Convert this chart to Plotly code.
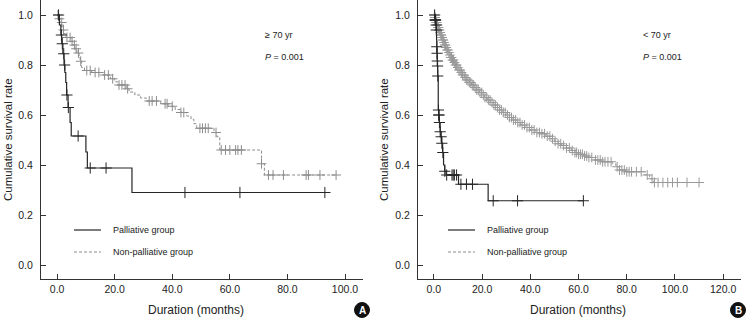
import numpy as np
import plotly.graph_objects as go

W, H = 750, 318

# ---------------- Data ----------------
# Panel A (>= 70 yr)
a_pal_t = [0, 0.8, 1.3, 1.6, 2.0, 2.4, 2.7, 3.0, 3.3, 3.8, 4.5, 4.9, 10.0, 10.5, 26.0]
a_pal_s = [1.0, 0.96, 0.92, 0.885, 0.845, 0.80, 0.77, 0.73, 0.68, 0.63, 0.57, 0.516, 0.452, 0.388, 0.29]
a_pal_end = 93.0
a_pal_cens = [0.5, 1.5, 1.8, 2.3, 2.6, 3.4, 3.9, 7.3, 11.5, 17.0, 44.4, 63.5, 93.0]

a_non_t = [0, 0.5, 1.2, 2.0, 2.4, 3.0, 4.8, 5.5, 6.2, 6.9, 7.6, 8.0, 8.5, 9.5, 12.0, 16.0,
           18.5, 20.0, 21.0, 24.0, 25.0, 27.0, 29.0, 31.0, 36.0, 38.5, 41.0, 43.0, 45.0,
           46.5, 47.5, 48.5, 54.5, 55.5, 56.5, 71.0, 72.0]
a_non_s = [1.0, 0.985, 0.97, 0.94, 0.925, 0.91, 0.895, 0.88, 0.865, 0.848, 0.83, 0.815, 0.79,
           0.778, 0.77, 0.76, 0.745, 0.733, 0.72, 0.705, 0.692, 0.68, 0.668, 0.656, 0.645,
           0.635, 0.622, 0.61, 0.596, 0.583, 0.565, 0.547, 0.53, 0.513, 0.46, 0.405, 0.36]
a_non_end = 97.0
a_non_cens = [0.3, 0.8, 1.6, 2.2, 3.4, 4.5, 5.2, 6.0, 6.6, 7.4, 8.2, 10.3, 11.5, 13.2, 14.5,
              16.5, 17.8, 19.3, 21.5, 22.5, 23.6, 24.5, 32.0, 33.0, 34.5, 37.5, 38.2, 40.0,
              43.0, 44.0, 49.6, 50.5, 51.5, 52.5, 55.2, 57.0, 58.5, 60.0, 62.0, 62.8, 64.0,
              71.0, 73.4, 75.0, 78.6, 86.5, 87.3, 91.3, 96.9]

# Panel B (< 70 yr)
b_pal_t = [0, 0.5, 0.8, 1.0, 1.1, 1.2, 1.3, 1.4, 1.5, 1.6, 1.8, 2.0, 2.2, 2.6, 2.9, 3.2,
           3.6, 4.0, 4.5, 5.0, 10.2, 22.5]
b_pal_s = [1.0, 0.98, 0.96, 0.94, 0.90, 0.873, 0.847, 0.816, 0.796, 0.756, 0.62, 0.60, 0.57,
           0.533, 0.513, 0.487, 0.45, 0.40, 0.375, 0.36, 0.323, 0.257]
b_pal_end = 62.0
b_pal_cens = [0.3, 0.5, 0.6, 0.7, 0.9, 1.0, 1.2, 1.3, 1.4, 1.5, 1.6, 1.9, 2.0, 2.1, 2.3, 2.6,
              3.0, 3.3, 3.7, 4.5, 5.3, 7.5, 8.0, 8.5, 9.4, 11.2, 13.5, 16.0, 24.6, 34.7, 62.0]

b_non_t = [0, 0.3, 0.6, 0.9, 1.2, 1.6, 2.0, 2.4, 2.8, 3.2, 3.6, 4.0, 4.4, 4.9, 5.4, 5.9, 6.4,
           7.0, 7.6, 8.2, 8.8, 9.5, 10.2, 11.0, 11.8, 12.7, 13.6, 14.6, 15.6, 16.6, 17.7, 18.8,
           19.9, 21.0, 22.2, 23.4, 24.6, 25.9, 27.2, 28.5, 29.9, 31.3, 32.8, 34.3, 36.0, 37.8,
           39.8, 42.0, 44.5, 46.5, 48.5, 50.0, 51.5, 53.0, 55.0, 57.0, 58.5, 60.0, 62.0, 64.0,
           66.5, 70.0, 74.0, 75.5, 77.0, 79.5, 87.5, 89.5, 91.0]
b_non_s = [1.0, 0.99, 0.98, 0.97, 0.96, 0.95, 0.94, 0.93, 0.92, 0.91, 0.90, 0.89, 0.88, 0.87,
           0.86, 0.85, 0.84, 0.83, 0.82, 0.81, 0.80, 0.79, 0.78, 0.77, 0.76, 0.75, 0.74, 0.73,
           0.72, 0.71, 0.70, 0.69, 0.68, 0.67, 0.66, 0.65, 0.64, 0.63, 0.62, 0.61, 0.60, 0.59,
           0.58, 0.57, 0.56, 0.55, 0.54, 0.53, 0.525, 0.515, 0.505, 0.495, 0.485, 0.478, 0.468,
           0.458, 0.45, 0.443, 0.436, 0.43, 0.42, 0.413, 0.405, 0.393, 0.38, 0.373, 0.36,
           0.345, 0.33]
b_non_end = 110.0
b_non_cens = [0.2, 0.4, 0.5, 0.7, 0.8, 1.0, 1.1, 1.3, 1.5, 1.7, 1.9, 2.1, 2.3, 2.6, 2.9, 3.1,
              3.4, 3.7, 3.9, 4.2, 4.5, 4.8, 5.1, 5.5, 5.8, 6.2, 6.6, 7.0, 7.3, 7.7, 8.1, 8.5,
              9.0, 9.4, 9.9, 10.4, 10.9, 11.4, 11.9, 12.5, 13.0, 13.6, 14.1, 14.7, 15.3, 15.9,
              16.5, 17.1, 17.8, 18.4, 19.1, 19.8, 20.5, 21.2, 21.9, 22.6, 23.3, 24.1, 24.9,
              25.6, 26.4, 27.2, 28.0, 28.8, 29.6, 30.5, 31.3, 32.2, 33.0, 33.9, 34.8, 35.7,
              36.6, 37.6, 38.6, 39.6, 40.6, 41.6, 42.7, 43.8, 44.8, 45.9, 47.0, 48.1, 49.2,
              50.3, 51.5, 52.6, 53.8, 55.0, 56.2, 57.4, 58.5, 59.2, 60.0, 60.8, 61.6, 62.5,
              63.4, 64.3, 65.5, 67.0, 68.0, 69.0, 70.0, 71.0, 72.2, 73.5, 76.0, 77.0, 78.0,
              79.0, 80.0, 81.0, 82.0, 84.0, 86.0, 88.5, 90.5, 91.5, 93.0, 95.0, 97.0, 99.0,
              101.0, 105.0, 110.0]

x_ticks_a = [0, 20, 40, 60, 80, 100]
x_ticks_b = [0, 20, 40, 60, 80, 100, 120]
y_ticks = [0.0, 0.2, 0.4, 0.6, 0.8, 1.0]
legend_labels = ["Palliative group", "Non-palliative group"]

FONT = "Liberation Sans, Arial, sans-serif"
PAL_COL = "#262626"
NON_COL = "#8c8c8c"

def step_xy(t, s, end):
    return list(t) + [end], list(s) + [s[-1]]

def cens_y(t, s, c):
    t = np.asarray(t); s = np.asarray(s)
    idx = np.searchsorted(t, np.asarray(c), side="right") - 1
    return s[idx]

fig = go.Figure()

def add_curve(t, s, end, cens, col, dash, xa, ya, width, msize):
    x, y = step_xy(t, s, end)
    fig.add_trace(go.Scatter(x=x, y=y, mode="lines", line=dict(color=col, width=width, dash=dash, shape="hv"),
                             xaxis=xa, yaxis=ya, showlegend=False, hoverinfo="skip"))
    fig.add_trace(go.Scatter(x=cens, y=cens_y(t, s, cens), mode="markers",
                             marker=dict(symbol="cross-thin", size=msize, line=dict(color=col, width=1)),
                             xaxis=xa, yaxis=ya, showlegend=False, hoverinfo="skip"))

add_curve(a_non_t, a_non_s, a_non_end, a_non_cens, NON_COL, "3px,2px", "x", "y", 1, 7)
add_curve(a_pal_t, a_pal_s, a_pal_end, a_pal_cens, PAL_COL, "solid", "x", "y", 1.2, 8)
add_curve(b_non_t, b_non_s, b_non_end, b_non_cens, "#999999", "3px,2px", "x2", "y2", 1, 7)
add_curve(b_pal_t, b_pal_s, b_pal_end, b_pal_cens, PAL_COL, "solid", "x2", "y2", 1.2, 8)

def px(x): return x / W
def py(y): return 1 - y / H

axis_common = dict(showline=True, linecolor="#333", linewidth=1, ticks="inside", ticklen=5,
                   tickcolor="#333", showgrid=False, zeroline=False,
                   tickfont=dict(family=FONT, size=10.5, color="#222"))

y_top = 1.0
y_bot = py(279)
yr = [(265 - 279) / 250, 265 / 250]

fig.update_layout(
    width=W, height=H, margin=dict(l=0, r=0, t=0, b=0),
    paper_bgcolor="white", plot_bgcolor="white",
    xaxis=dict(domain=[px(41), px(363)], range=[-5.6, 106.25], tickvals=x_ticks_a,
               ticktext=[f"{v:.1f}" for v in x_ticks_a], anchor="y", **axis_common),
    yaxis=dict(domain=[y_bot, y_top], range=yr, tickvals=y_ticks,
               ticktext=[f"{v:.1f}" for v in y_ticks], anchor="x", ticklabelstandoff=5, **axis_common),
    xaxis2=dict(domain=[px(418), px(741)], range=[-6.6, 127.4], tickvals=x_ticks_b,
                ticktext=[f"{v:.1f}" for v in x_ticks_b], anchor="y2", **axis_common),
    yaxis2=dict(domain=[y_bot, y_top], range=yr, tickvals=y_ticks,
                ticktext=[f"{v:.1f}" for v in y_ticks], anchor="x2", ticklabelstandoff=5, **axis_common),
)

anns = []
shapes = []

def ann(x, y, text, size, xanchor="center", angle=0, color="#222"):
    anns.append(dict(x=px(x), y=py(y), xref="paper", yref="paper", text=text, textangle=angle,
                     xanchor=xanchor, yanchor="middle", showarrow=False,
                     font=dict(family=FONT, size=size, color=color)))

for (ax_x, lab, cx_title, leg_x0, circ_x, letter, tx) in [
        (8, "&#8805; 70 yr", 196, 74, 362, "A", 263),
        (384, "&lt; 70 yr", 578, 448, 738, "B", 641)]:
    ann(ax_x, 140, "Cumulative survival rate", 11.5, angle=-90)
    ann(cx_title, 310, "Duration (months)", 12)
    ann(tx, 35, lab, 9, xanchor="left")
    ann(tx, 57, "<i>P</i> = 0.001", 9, xanchor="left")
    # legend
    for i, (lbl, col, dash, ly) in enumerate([(legend_labels[0], PAL_COL, "solid", 230),
                                               (legend_labels[1], NON_COL, "3px,2px", 252)]):
        shapes.append(dict(type="line", xref="paper", yref="paper", x0=px(leg_x0), x1=px(leg_x0 + 27),
                           y0=py(ly), y1=py(ly), line=dict(color=col, width=1.2 if i == 0 else 1, dash=dash)))
        ann(leg_x0 + 37, ly, lbl, 9, xanchor="left")
    # circled letter
    r = 7.5
    shapes.append(dict(type="circle", xref="paper", yref="paper", x0=px(circ_x - r), x1=px(circ_x + r),
                       y0=py(310 + r), y1=py(310 - r), fillcolor="#111", line=dict(color="#111", width=1)))
    ann(circ_x, 310, f"<b>{letter}</b>", 10, color="white")

fig.update_layout(annotations=anns, shapes=shapes)
fig.write_html("out.html", config={"displayModeBar": False},
               post_script="document.body.style.margin='0';document.body.style.padding='0';")
